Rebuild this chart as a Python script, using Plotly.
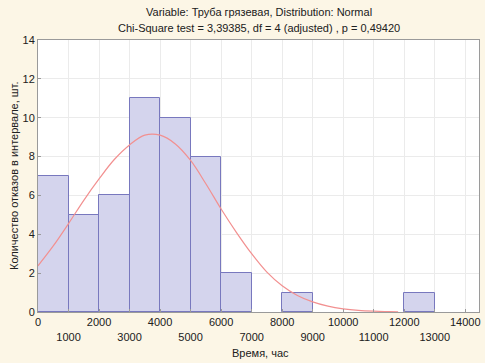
import plotly.graph_objects as go

# Histogram data (interval lower bounds, width 1000 h)
bin_left = [0, 1000, 2000, 3000, 4000, 5000, 6000, 7000, 8000, 9000, 10000, 11000, 12000]
counts   = [7, 5, 6, 11, 10, 8, 2, 0, 1, 0, 0, 0, 1]
bin_width = 1000

# Fitted normal curve (expected counts)
curve_x = [0, 500, 1000, 1500, 2000, 2500, 3000, 3500, 4000, 4500, 5000, 5500, 6000,
           6500, 7000, 7500, 8000, 8500, 9000, 9500, 10000, 10500, 11000, 11500, 11800]
curve_y = [2.38, 3.4, 4.55, 5.75, 6.85, 7.85, 8.6, 9.1, 9.1, 8.65, 7.8, 6.6, 5.3,
           4.1, 3.0, 2.05, 1.35, 0.85, 0.52, 0.3, 0.16, 0.08, 0.04, 0.02, 0.01]

x_ticks = list(range(0, 14001, 1000))
x_ticktext = [str(v) if (v // 1000) % 2 == 0 else "<br>" + str(v) for v in x_ticks]
y_ticks = list(range(0, 15, 2))

title_line1 = "Variable: Труба грязевая, Distribution: Normal"
title_line2 = "Chi-Square test = 3,39385, df = 4 (adjusted) , p = 0,49420"
x_title = "Время, час"
y_title = "Количество отказов в интервале, шт."

bx = [l + bin_width / 2 for l, c in zip(bin_left, counts) if c > 0]
by = [c for c in counts if c > 0]

W, H = 485, 363
ML, MR, MT, MB = 38, 6, 40, 51

fig = go.Figure()
fig.add_trace(go.Bar(
    x=bx, y=by, width=bin_width,
    marker=dict(
        color="#d4d4ec",
        line=dict(color="#7878be", width=1),
        pattern=dict(shape=".", size=2, solidity=0.5, fgcolor="#c2c2e2", bgcolor="#d9d9ef"),
    ),
    hoverinfo="skip",
))
fig.add_trace(go.Scatter(
    x=curve_x, y=curve_y, mode="lines", line_shape="spline",
    line=dict(color="#f29090", width=1.2),
    hoverinfo="skip",
))

font_family = "Liberation Sans, Arial, sans-serif"
txt = "#202020"

def px_x(p):
    return (p - ML) / (W - ML - MR)

def px_y(p):
    return (H - MB - p) / (H - MT - MB)

annotations = [
    dict(text=title_line1, x=0.5, xref="paper", y=px_y(12), yref="paper",
         xanchor="center", yanchor="middle", showarrow=False, font=dict(size=11, color=txt)),
    dict(text=title_line2, x=0.5, xref="paper", y=px_y(28), yref="paper",
         xanchor="center", yanchor="middle", showarrow=False, font=dict(size=11, color=txt)),
    dict(text=x_title, x=px_x(260), xref="paper", y=px_y(353), yref="paper",
         xanchor="center", yanchor="middle", showarrow=False, font=dict(size=11, color=txt)),
    dict(text=y_title, x=px_x(14), xref="paper", y=px_y(176), yref="paper",
         xanchor="center", yanchor="middle", showarrow=False, textangle=-90,
         font=dict(size=11, color=txt)),
]

fig.update_layout(
    width=W, height=H,
    margin=dict(l=ML, r=MR, t=MT, b=MB, autoexpand=False),
    paper_bgcolor="#fcf6e6",
    plot_bgcolor="#ffffff",
    showlegend=False,
    bargap=0,
    font=dict(family=font_family, size=11, color=txt),
    annotations=annotations,
)
fig.update_xaxes(
    range=[0, 14450], tickvals=x_ticks, ticktext=x_ticktext, tickangle=0,
    showgrid=True, gridcolor="#ebebeb", gridwidth=1,
    showline=True, linecolor="#9a9a9a", linewidth=1, mirror=True,
    ticks="inside", ticklen=3, tickcolor="#9a9a9a",
    zeroline=False, automargin=False,
    tickfont=dict(size=11),
)
fig.update_yaxes(
    range=[0, 14], tickvals=y_ticks,
    showgrid=True, gridcolor="#ebebeb", gridwidth=1,
    showline=True, linecolor="#9a9a9a", linewidth=1, mirror=True,
    ticks="inside", ticklen=3, tickcolor="#9a9a9a",
    zeroline=False, automargin=False,
    tickfont=dict(size=11),
)

fig.write_html(
    "out.html",
    config={"displayModeBar": False},
    post_script="document.body.style.margin='0';document.body.style.padding='0';",
)
